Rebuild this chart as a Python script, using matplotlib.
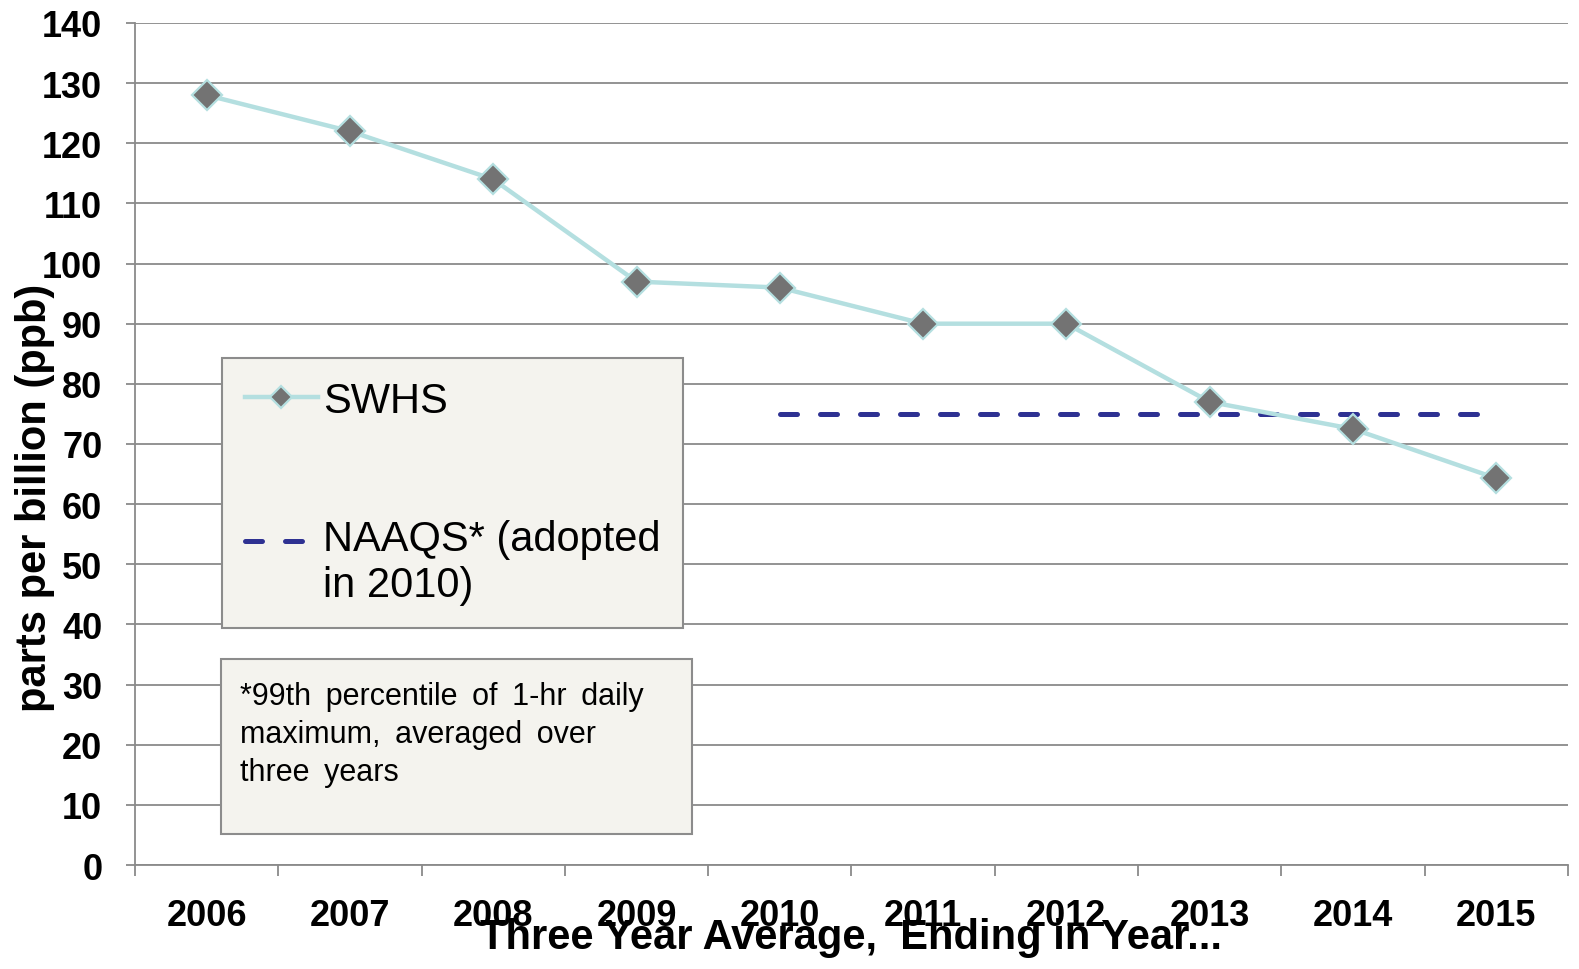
import numpy as np
import matplotlib
matplotlib.use("Agg")
import matplotlib.pyplot as plt
from matplotlib import font_manager
from matplotlib.patches import Rectangle
from matplotlib.legend_handler import HandlerLine2D

# chart data
years = ['2006', '2007', '2008', '2009', '2010', '2011', '2012', '2013', '2014', '2015']
swhs = [128, 122, 114, 97, 96, 90, 90, 77, 72.5, 64.3]
naaqs = [None, None, None, None, 75, 75, 75, 75, 75, 75]
y_ticks = list(range(0, 141, 10))

# the footnote is set with wide word spacing (space + thin space)
sp = ' \u2009'
footnote = sp.join(['*99th', 'percentile', 'of', '1-hr', 'daily']) + '\n' + \
    sp.join(['maximum,', 'averaged', 'over']) + '\n' + sp.join(['three', 'years'])

# fonts: Arial look-alike, narrow bold for the x title if there is one
names = {f.name for f in font_manager.fontManager.ttflist}
base_font = 'Liberation Sans' if 'Liberation Sans' in names else 'DejaVu Sans'
narrow_font = 'Liberation Sans Narrow' if 'Liberation Sans Narrow' in names else base_font
plt.rcParams['font.family'] = [base_font, 'DejaVu Sans']

grid_col = '#8a8a8a'
line_col = '#b4dfe0'
marker_col = '#737373'
dash_col = '#2e3192'


class FirstLineHandler(HandlerLine2D):
    # put the legend handle level with the first line of a two-line label
    def __init__(self, shift, **kw):
        super().__init__(**kw)
        self.shift = shift

    def create_artists(self, legend, orig_handle, xdescent, ydescent, width, height,
                       fontsize, trans):
        artists = super().create_artists(legend, orig_handle, xdescent, ydescent,
                                         width, height, fontsize, trans)
        for a in artists:
            a.set_ydata(np.asarray(a.get_ydata()) + self.shift)
        return artists


fig = plt.figure(figsize=(15.79, 9.70), dpi=100)
ax = fig.add_axes([0.0855, 0.1072, 0.9075, 0.8681])

x = np.arange(len(years))
naaqs_vals = np.array([np.nan if v is None else v for v in naaqs], dtype=float)

naaqs_line, = ax.plot(x, naaqs_vals, color=dash_col, lw=3.6, linestyle=(0, (3.4, 4.6)),
                      dash_capstyle='round', label='NAAQS* (adopted\nin 2010)', zorder=3)
swhs_line, = ax.plot(x, swhs, color=line_col, lw=3.2, marker='D', markersize=15,
                     markerfacecolor=marker_col, markeredgecolor=line_col, markeredgewidth=1.6,
                     label='SWHS', zorder=4)

ax.set_xlim(-0.5, len(years) - 0.5)
ax.set_ylim(0, 140)
ax.set_yticks(y_ticks)
ax.yaxis.grid(True, color=grid_col, lw=1.3)
ax.set_axisbelow(True)

ax.set_xticks(x, years)
ax.set_xticks(np.arange(-0.5, len(years)), minor=True)
ax.tick_params(axis='x', which='major', length=0, pad=24, labelsize=26)
ax.tick_params(axis='x', which='minor', length=8, width=1.3, color=grid_col)
ax.tick_params(axis='y', length=6.5, width=1.3, color=grid_col, pad=17, labelsize=26)
for lab in ax.get_xticklabels() + ax.get_yticklabels():
    lab.set_fontweight('bold')

for s in ['top', 'right']:
    ax.spines[s].set_visible(False)
for s in ['left', 'bottom']:
    ax.spines[s].set_color(grid_col)
    ax.spines[s].set_linewidth(1.3)

ax.set_ylabel('parts per billion (ppb)', fontsize=30, fontweight='bold')
ax.yaxis.set_label_coords(-0.0698, 0.437)
ax.yaxis.label.set_va('center')
ax.set_xlabel('Three Year Average,  Ending in Year...', fontsize=30, fontweight='bold',
              family=[narrow_font, 'DejaVu Sans'])
ax.xaxis.set_label_coords(0.5, -0.0855)
ax.xaxis.label.set_va('center')

# legend box
leg = ax.legend([swhs_line, naaqs_line], ['SWHS', 'NAAQS* (adopted\nin 2010)'],
                loc='upper left', bbox_to_anchor=(0.0607, 0.602),
                fontsize=30, frameon=True, fancybox=False, handlelength=1.75,
                handletextpad=0.12, labelspacing=2.35, borderpad=0.55, borderaxespad=0,
                markerscale=0.72,
                handler_map={naaqs_line: FirstLineHandler(shift=16)})
leg.get_frame().set_facecolor('#f4f3ee')
leg.get_frame().set_edgecolor('#8c8c8c')
leg.get_frame().set_linewidth(1.5)
leg.get_frame().set_alpha(1)

# footnote box
ax.add_patch(Rectangle((0.060, 0.0368), 0.3287, 0.2078, transform=ax.transAxes,
                       facecolor='#f4f3ee', edgecolor='#8c8c8c', lw=1.5, zorder=5))
ax.text(0.0733, 0.219, footnote, transform=ax.transAxes, fontsize=22, va='top',
        ha='left', linespacing=1.35, zorder=6)

fig.savefig('out.png', dpi=100)
